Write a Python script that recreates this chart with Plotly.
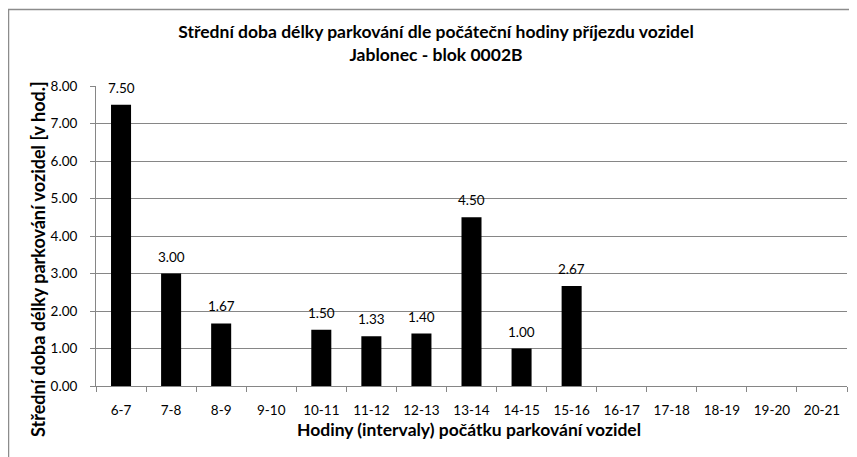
import plotly.graph_objects as go

categories = ["6-7", "7-8", "8-9", "9-10", "10-11", "11-12", "12-13", "13-14",
              "14-15", "15-16", "16-17", "17-18", "18-19", "19-20", "20-21"]
values = [7.50, 3.00, 1.67, None, 1.50, 1.33, 1.40, 4.50, 1.00, 2.67,
          None, None, None, None, None]
y_ticks = [0, 1, 2, 3, 4, 5, 6, 7, 8]

title_text = "Střední doba délky parkování dle počáteční hodiny příjezdu vozidel<br>Jablonec - blok 0002B"
x_title = "Hodiny (intervaly) počátku parkování vozidel"
y_title = "Střední doba délky parkování vozidel [v hod.]"

W, H = 857, 457
# page body adds an 8px offset; positions below are figure coordinates
L, R, T, B = 88, 18, 78, 79
pw, ph = W - L - R, H - T - B

def px_x(x):
    return (x - L) / pw

def px_y(y):
    return (H - B - y) / ph

FONT = "Lato"
GRID = "#868686"
TICK_SIZE = 13.5
TITLE_SIZE = 17.5

fig = go.Figure()
fig.add_trace(go.Bar(
    x=categories, y=values,
    marker=dict(color="black", line=dict(width=0)),
    cliponaxis=False,
))

for c, v in zip(categories, values):
    if v is None:
        continue
    fig.add_annotation(x=c, y=v, xref="x", yref="y", text=f"{v:.2f}",
                       showarrow=False, yanchor="middle", yshift=17,
                       font=dict(family=FONT, size=TICK_SIZE, color="black"))

fig.update_layout(
    width=W, height=H,
    margin=dict(l=L, r=R, t=T, b=B),
    paper_bgcolor="white", plot_bgcolor="white",
    font=dict(family=FONT, color="black"),
    bargap=0.6,
    showlegend=False,
    title=dict(text=title_text, xref="container", x=428 / W, xanchor="center",
               yref="container", y=1 - 30 / H, yanchor="middle",
               font=dict(family=FONT, size=TITLE_SIZE, color="black", weight="bold")),
)

fig.update_xaxes(
    type="category", categoryorder="array", categoryarray=categories,
    showline=True, linecolor=GRID, linewidth=1,
    ticks="outside", tickson="boundaries", ticklen=5, tickcolor=GRID,
    tickfont=dict(family=FONT, size=TICK_SIZE, color="black"),
    ticklabelstandoff=12,
    showgrid=False, fixedrange=True,
)
fig.update_yaxes(
    range=[0, 8], tickvals=y_ticks, ticktext=[f"{v:.2f}" for v in y_ticks],
    showline=True, linecolor=GRID, linewidth=1,
    ticks="outside", ticklen=5, tickcolor=GRID,
    tickfont=dict(family=FONT, size=TICK_SIZE, color="black"),
    ticklabelstandoff=10,
    showgrid=True, gridcolor=GRID, gridwidth=1,
    zeroline=False,
)

fig.add_annotation(text=x_title, xref="paper", yref="paper",
                   x=px_x(461), y=px_y(421), xanchor="center", yanchor="middle",
                   showarrow=False,
                   font=dict(family=FONT, size=TITLE_SIZE, color="black", weight="bold"))
fig.add_annotation(text=y_title, xref="paper", yref="paper",
                   x=px_x(30), y=px_y(251), xanchor="center", yanchor="middle",
                   textangle=-90, showarrow=False,
                   font=dict(family=FONT, size=18, color="black", weight="bold"))

fig.add_shape(type="rect", xref="paper", yref="paper",
              x0=px_x(0.5), x1=px_x(W + 20), y0=px_y(H + 20), y1=px_y(1.5),
              line=dict(color="#8c8c8c", width=1.5), fillcolor="rgba(0,0,0,0)",
              layer="below")

fig.write_html("out.html")
